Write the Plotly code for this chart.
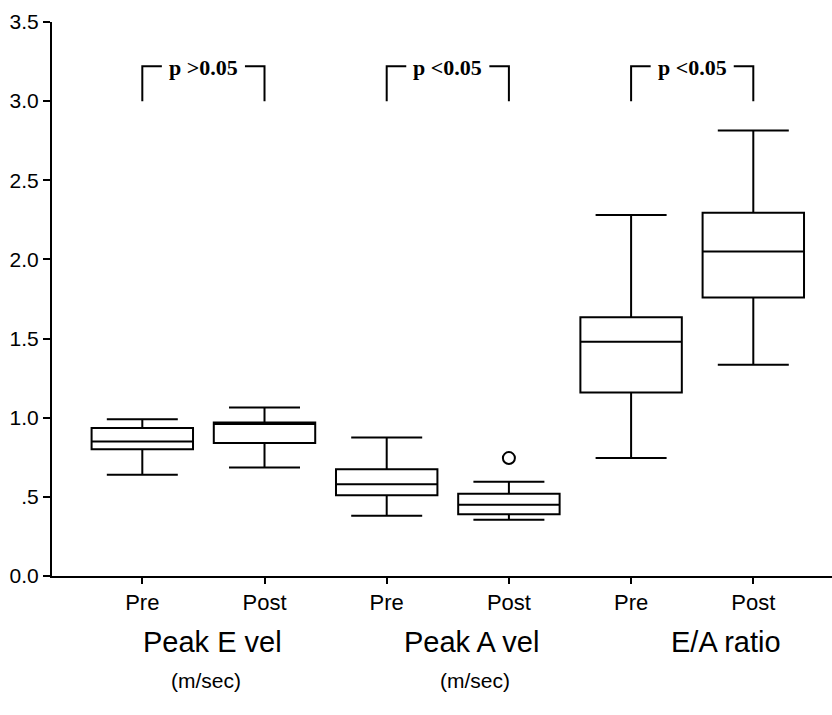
import plotly.graph_objects as go

# ---- data ----
tick_labels = ["Pre", "Post", "Pre", "Post", "Pre", "Post"]
group_names = ["Peak E vel", "Peak A vel", "E/A ratio"]
group_units = ["(m/sec)", "(m/sec)", ""]
p_texts = ["p >0.05", "p <0.05", "p <0.05"]

q1_vals = [0.80, 0.84, 0.51, 0.39, 1.16, 1.76]
median_vals = [0.85, 0.96, 0.58, 0.45, 1.48, 2.05]
q3_vals = [0.935, 0.97, 0.675, 0.52, 1.635, 2.295]
lower_vals = [0.64, 0.685, 0.38, 0.355, 0.745, 1.335]
upper_vals = [0.99, 1.065, 0.875, 0.595, 2.28, 2.815]

outlier_idx = [3]
outlier_vals = [0.745]

y_tickvals = [0.0, 0.5, 1.0, 1.5, 2.0, 2.5, 3.0, 3.5]
y_ticktext = ["0.0", ".5", "1.0", "1.5", "2.0", "2.5", "3.0", "3.5"]

bracket_bottom = 3.0
bracket_top = 3.22

# ---- figure ----
xs = list(range(len(tick_labels)))
fig = go.Figure()
fig.add_trace(go.Box(
    x=xs, q1=q1_vals, median=median_vals, q3=q3_vals,
    lowerfence=lower_vals, upperfence=upper_vals,
    width=0.83, whiskerwidth=0.7,
    line=dict(color="black", width=2), fillcolor="white",
    boxpoints=False, showlegend=False,
))
fig.add_trace(go.Scatter(
    x=outlier_idx, y=outlier_vals, mode="markers",
    marker=dict(symbol="circle-open", size=12, color="black", line=dict(width=2)),
    showlegend=False,
))

shapes = []
annotations = []
seg = 0.16
for g, txt in enumerate(p_texts):
    xa, xb = 2 * g, 2 * g + 1
    shapes.append(dict(type="path", xref="x", yref="y",
                       path=f"M {xa},{bracket_bottom} L {xa},{bracket_top} L {xa+seg},{bracket_top}",
                       line=dict(color="black", width=2)))
    shapes.append(dict(type="path", xref="x", yref="y",
                       path=f"M {xb-seg},{bracket_top} L {xb},{bracket_top} L {xb},{bracket_bottom}",
                       line=dict(color="black", width=2)))
    annotations.append(dict(x=(xa + xb) / 2, y=bracket_top, xref="x", yref="y",
                            text=f"<b>{txt}</b>", showarrow=False, yanchor="middle",
                            yshift=-1,
                            font=dict(family="Liberation Serif", size=22, color="black")))

label_xshift = [9, 24, 34]
unit_xshift = [3, 27, 0]
for g, name in enumerate(group_names):
    annotations.append(dict(x=2 * g + 0.5, y=0, xref="x", yref="paper",
                            text=name, showarrow=False, yanchor="middle",
                            xshift=label_xshift[g], yshift=-66,
                            font=dict(family="Liberation Sans", size=29, color="black")))
    if group_units[g]:
        annotations.append(dict(x=2 * g + 0.5, y=0, xref="x", yref="paper",
                                text=group_units[g], showarrow=False, yanchor="middle",
                                xshift=unit_xshift[g], yshift=-104,
                                font=dict(family="Liberation Sans", size=21, color="black")))

fig.update_layout(
    width=832, height=715,
    margin=dict(l=52, r=0, t=22, b=139),
    plot_bgcolor="white", paper_bgcolor="white",
    font=dict(family="Liberation Sans", color="black"),
    shapes=shapes, annotations=annotations,
    showlegend=False,
)
fig.update_xaxes(
    range=[-0.739, 5.644], tickvals=xs, ticktext=tick_labels,
    showline=True, linecolor="black", linewidth=2,
    ticks="outside", ticklen=6, tickwidth=2, tickcolor="black",
    showgrid=False, zeroline=False,
    tickfont=dict(family="Liberation Sans", size=22, color="black"),
)
fig.update_yaxes(
    range=[0, 3.5], tickvals=y_tickvals, ticktext=y_ticktext,
    showline=True, linecolor="black", linewidth=2,
    ticks="outside", ticklen=7, tickwidth=2, tickcolor="black",
    showgrid=False, zeroline=False,
    tickfont=dict(family="Liberation Sans", size=21, color="black"),
)

fig.write_html(
    "out.html",
    config={"displayModeBar": False},
    post_script="document.body.style.margin='0';document.body.style.overflow='hidden';",
)
